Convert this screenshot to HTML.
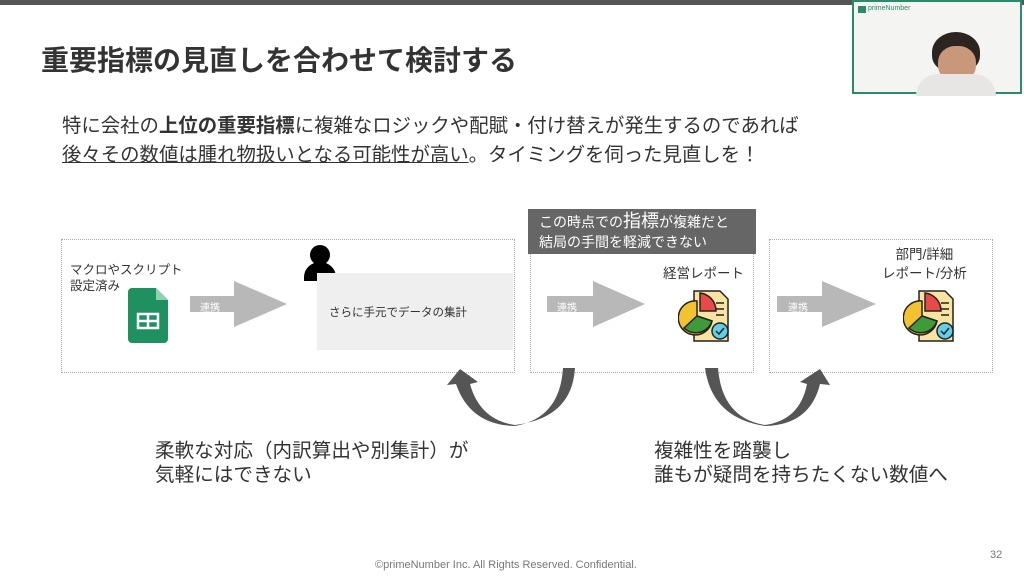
<!DOCTYPE html>
<html><head><meta charset="utf-8"><style>
body{margin:0;width:1024px;height:576px;background:#fff;position:relative;overflow:hidden;font-family:"Liberation Sans","Noto Sans CJK JP",sans-serif;color:#333}
.a{position:absolute}
.box{position:absolute;border:1.5px dotted #aaa}
.t{position:absolute;white-space:nowrap}
</style></head><body>
<div class="a" style="left:0;top:0;width:1024px;height:5px;background:#555"></div>
<div class="a" style="left:852px;top:0;width:170px;height:94px;border:2px solid #2a8a6a;background:#f4f5f3;box-sizing:border-box">
 <div class="a" style="left:4px;top:4px;width:8px;height:7px;background:#2a8a6a"></div>
 <div class="t" style="left:14px;top:3px;font-size:7px;color:#2a8a6a">primeNumber</div>
 <div class="a" style="left:78px;top:30px;width:48px;height:40px;border-radius:50% 50% 40% 40%;background:#2c2420"></div>
 <div class="a" style="left:84px;top:44px;width:38px;height:36px;border-radius:45%;background:#c9987a"></div>
 <div class="a" style="left:62px;top:72px;width:80px;height:22px;border-radius:40px 40px 0 0;background:#e8e6e4"></div>
</div>
<div class="t" style="left:41px;top:39px;font-size:28px;font-weight:bold;color:#333">重要指標の見直しを合わせて検討する</div>
<div class="t" style="left:62px;top:109px;font-size:19.4px;color:#333">特に会社の<b>上位の重要指標</b>に複雑なロジックや配賦・付け替えが発生するのであれば</div>
<div class="t" style="left:62px;top:138px;font-size:19.4px;color:#333"><span style="text-decoration:underline">後々その数値は腫れ物扱いとなる可能性が高い</span>。タイミングを伺った見直しを！</div>

<div class="box" style="left:61px;top:239px;width:452px;height:132px"></div>
<div class="box" style="left:530px;top:239px;width:222px;height:132px"></div>
<div class="box" style="left:769px;top:239px;width:222px;height:132px"></div>

<div class="t" style="left:70px;top:262px;font-size:12.5px;line-height:16px">マクロやスクリプト<br>設定済み</div>
<svg class="a" style="left:128px;top:288px" width="40" height="55"><path d="M4 0H28L40 12V51a4 4 0 0 1-4 4H4a4 4 0 0 1-4-4V4a4 4 0 0 1 4-4z" fill="#1f9160"/><path d="M28 0L40 12H28z" fill="#8ed1ae"/><rect x="10" y="26" width="20" height="14" fill="none" stroke="#fff" stroke-width="2.5"/><line x1="10" y1="33" x2="30" y2="33" stroke="#fff" stroke-width="2.5"/><line x1="20" y1="26" x2="20" y2="40" stroke="#fff" stroke-width="2.5"/></svg>

<svg class="a" style="left:0;top:0" width="1024" height="576">
<g fill="#b8b8b8">
<polygon points="190,296 234,296 234,281 287,304 234,327 234,312 190,312"/>
<polygon points="547,296 593,296 593,281 645,304 593,327 593,312 547,312"/>
<polygon points="777,296 822,296 822,281 876,304 822,327 822,312 777,312"/>
</g>
<g fill="#555">
<path d="M563 368 L575 368 Q572 418 515 425 Q480 420 470 384 L478 382 L460 369 L447 385 L456 384 Q470 425 515 426 Q560 418 563 368Z"/>
<path d="M705 368 L718 368 Q722 418 765 425 Q800 420 807 384 L800 382 L820 369 L830 385 L820 384 Q810 425 765 426 Q712 418 705 368Z"/>
</g>
<circle cx="320" cy="255" r="10" fill="#000"/>
<path d="M304 281 v-4 a16 15 0 0 1 32 0 v4z" fill="#000"/>
</svg>

<div class="a" style="left:317px;top:273px;width:196px;height:77px;background:#efefef"></div>
<div class="t" style="left:329px;top:304px;font-size:11.5px">さらに手元でデータの集計</div>

<div class="a" style="left:528px;top:209px;width:228px;height:45px;background:#666"></div>
<div class="t" style="left:539px;top:211px;font-size:14px;color:#fff;line-height:20px">この時点での<span style="font-size:18px">指標</span>が複雑だと<br>結局の手間を軽減できない</div>
<div class="t" style="left:663px;top:262px;font-size:13.5px">経営レポート</div>
<div class="t" style="left:882px;top:245px;font-size:13.5px;line-height:19px;text-align:center">部門/詳細<br>レポート/分析</div>

<div class="t" style="left:200px;top:299px;font-size:10px;color:#fff">連携</div>
<div class="t" style="left:557px;top:299px;font-size:10px;color:#fff">連携</div>
<div class="t" style="left:788px;top:299px;font-size:10px;color:#fff">連携</div>

<svg class="a" style="left:678px;top:289px" width="54" height="54"><g stroke="#222" stroke-width="1.5"><path d="M16 2H42L50 10V52H16z" fill="#f9e3a0"/><line x1="38" y1="14" x2="46" y2="14"/><line x1="38" y1="20" x2="46" y2="20"/><line x1="38" y1="26" x2="46" y2="26"/><path d="M22 4 A18 18 0 0 1 38 22 H22z" fill="#e84a4a"/><path d="M19 12 A17 17 0 1 0 34 32 L19 27z" fill="#f2c230"/><path d="M19 27 L34 32 A17 17 0 0 1 6 39z" fill="#3f9a3a"/><circle cx="42" cy="42" r="8" fill="#5fd0e8"/><path d="M38 42l3 3 5-6" fill="none"/></g></svg>
<svg class="a" style="left:903px;top:289px" width="54" height="54"><g stroke="#222" stroke-width="1.5"><path d="M16 2H42L50 10V52H16z" fill="#f9e3a0"/><line x1="38" y1="14" x2="46" y2="14"/><line x1="38" y1="20" x2="46" y2="20"/><line x1="38" y1="26" x2="46" y2="26"/><path d="M22 4 A18 18 0 0 1 38 22 H22z" fill="#e84a4a"/><path d="M19 12 A17 17 0 1 0 34 32 L19 27z" fill="#f2c230"/><path d="M19 27 L34 32 A17 17 0 0 1 6 39z" fill="#3f9a3a"/><circle cx="42" cy="42" r="8" fill="#5fd0e8"/><path d="M38 42l3 3 5-6" fill="none"/></g></svg>

<div class="t" style="left:155px;top:439px;font-size:19.6px;line-height:24px">柔軟な対応（内訳算出や別集計）が<br>気軽にはできない</div>
<div class="t" style="left:654px;top:439px;font-size:19.6px;line-height:24px">複雑性を踏襲し<br>誰もが疑問を持ちたくない数値へ</div>
<div class="t" style="left:375px;top:559px;font-size:11px;color:#777">©primeNumber Inc. All Rights Reserved. Confidential.</div>
<div class="t" style="left:990px;top:549px;font-size:11px;color:#777">32</div>
</body></html>
